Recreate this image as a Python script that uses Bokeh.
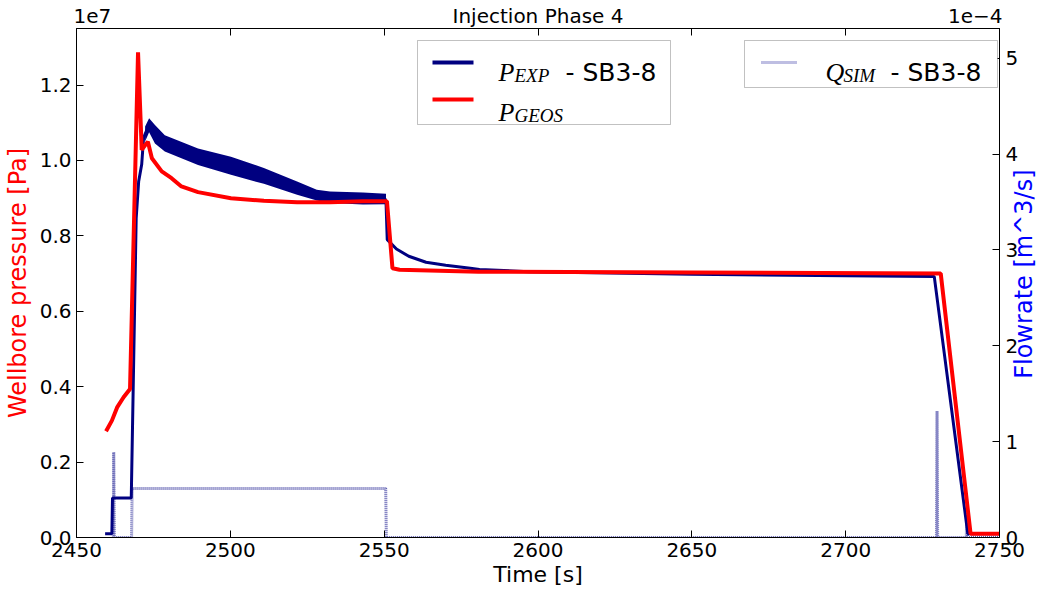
import math
from bokeh.plotting import figure
from bokeh.models import (Range1d, LinearAxis, FixedTicker, CustomJSTickFormatter,
                          Label, BoxAnnotation, Arrow)
from bokeh.embed import file_html
from bokeh.resources import INLINE

# ---------------- data ----------------
# Experimental pressure P_EXP (Pa, in units of 1e6)
t_exp = [2459.3, 2461.5, 2461.7, 2467.8, 2469.4, 2470.2, 2471.2, 2471.8, 2473.6,
         2475.5, 2478.7, 2489.5, 2500.2, 2510.9, 2521.7, 2528.1, 2532.4, 2543.1,
         2550.3, 2550.6, 2551.0, 2554.0, 2558.0, 2563.6, 2570.0, 2578.0, 2581.0,
         2597.0, 2650.0, 2700.0, 2728.8, 2739.7, 2750.0]
p_exp = [0.1, 0.1, 1.05, 1.05, 8.47, 9.44, 9.9, 10.6, 10.95,
         10.7, 10.45, 10.1, 9.86, 9.59, 9.27, 9.08, 9.02, 8.99,
         8.98, 8.9, 7.9, 7.65, 7.46, 7.3, 7.22, 7.14, 7.11,
         7.05, 6.98, 6.94, 6.92, 0.1, 0.1]

# Envelope of the noisy part of P_EXP (1e6 Pa)
t_band = [2472.3, 2473.6, 2475.5, 2478.7, 2489.5, 2500.2, 2510.9, 2521.7,
          2528.1, 2532.4, 2543.1, 2550.6]
band_hi = [10.9, 11.12, 10.94, 10.67, 10.32, 10.1, 9.8, 9.44, 9.22, 9.18, 9.15, 9.12]
band_lo = [10.5, 10.75, 10.45, 10.24, 9.88, 9.62, 9.38, 9.09, 8.94, 8.87, 8.83, 8.84]

# Simulated pressure P_GEOS (1e6 Pa)
t_geos = [2459.6, 2461.5, 2463.2, 2465.3, 2467.4, 2470.0, 2471.2, 2473.2, 2474.5,
          2477.7, 2480.9, 2484.1, 2489.5, 2500.2, 2510.9, 2521.7, 2532.4, 2543.1,
          2550.9, 2552.7, 2555.0, 2580.7, 2650.0, 2730.9, 2740.6, 2750.0]
p_geos = [2.82, 3.1, 3.45, 3.72, 3.94, 12.87, 10.28, 10.5, 10.06,
          9.71, 9.53, 9.31, 9.16, 9.0, 8.93, 8.89, 8.89, 8.92,
          8.92, 7.14, 7.1, 7.05, 7.03, 7.0, 0.1, 0.1]

# Simulated flowrate Q_SIM (1e-4 m^3/s)
t_q = [2462.0, 2462.1, 2462.3, 2467.9, 2468.1, 2500.0, 2550.5, 2550.7,
       2729.5, 2729.7, 2729.9, 2739.2, 2739.4, 2739.6, 2750.0]
q_sim = [0.0, 0.89, 0.0, 0.0, 0.51, 0.51, 0.51, 0.0,
         0.0, 1.32, 0.0, 0.0, 0.3, 0.0, 0.0]

x_ticks = [2450, 2500, 2550, 2600, 2650, 2700, 2750]
y_ticks = [0.0, 0.2e7, 0.4e7, 0.6e7, 0.8e7, 1.0e7, 1.2e7]
q_ticks = [0.0, 1e-4, 2e-4, 3e-4, 4e-4, 5e-4]

TITLE = "Injection Phase 4"
LEFT_OFFSET = "1e7"
RIGHT_OFFSET = "1e\u22124"
X_LABEL = "Time [s]"
Y_LABEL = "Wellbore pressure [Pa]"
Q_LABEL = "Flowrate [m^3/s]"

# ---------------- figure ----------------
FONT = "DejaVu Sans"
p = figure(width=1055, height=593, x_range=Range1d(2450, 2750),
           y_range=Range1d(0, 1.35e7), output_backend="svg",
           toolbar_location=None, title_location=None,
           min_border_left=74, min_border_right=49,
           min_border_top=27, min_border_bottom=56)
p.extra_y_ranges = {"q": Range1d(0, 5.31e-4), "lab": Range1d(0, 1)}
p.extra_x_ranges = {"lab": Range1d(0, 1)}
p.grid.visible = False
p.outline_line_color = "black"
p.outline_line_width = 1
p.background_fill_color = "white"
p.border_fill_color = "white"

def style_axis(ax, show_labels=True):
    ax.major_tick_in = 7
    ax.major_tick_out = 0
    ax.minor_tick_line_color = None
    ax.axis_line_color = "black"
    ax.major_tick_line_color = "black"
    ax.major_label_text_font = FONT
    ax.major_label_text_font_size = "20px" if show_labels else "0px"
    ax.major_label_text_color = "black"
    ax.axis_label_text_font = FONT
    ax.axis_label_text_font_size = "22px"
    ax.axis_label_text_font_style = "normal"
    ax.axis_label_text_color = "black"

xa = p.xaxis[0]
xa.ticker = FixedTicker(ticks=x_ticks)
xa.axis_label = X_LABEL
style_axis(xa)
xa.axis_label_standoff = 2

ya = p.yaxis[0]
ya.ticker = FixedTicker(ticks=y_ticks)
ya.formatter = CustomJSTickFormatter(code="return (tick/1e7).toFixed(1);")
ya.axis_label = Y_LABEL
style_axis(ya)
ya.axis_label_text_color = "red"
ya.axis_label_text_font_size = "24px"

# top axis: tick marks only
top = LinearAxis(ticker=FixedTicker(ticks=x_ticks))
style_axis(top, show_labels=False)
top.major_label_standoff = 0
p.add_layout(top, "above")

# top text row: offset texts and title, drawn as labels of a bare axis
toplab = LinearAxis(x_range_name="lab", ticker=FixedTicker(ticks=[0.0172, 0.5, 0.9737]),
                    formatter=CustomJSTickFormatter(
                        args=dict(a=LEFT_OFFSET, b=TITLE, c=RIGHT_OFFSET),
                        code="if (tick < 0.25) {return a;} if (tick > 0.75) {return c;} return b;"))
toplab.axis_line_color = None
toplab.major_tick_line_color = None
toplab.minor_tick_line_color = None
toplab.major_tick_in = 0
toplab.major_tick_out = 0
toplab.major_label_standoff = 1
toplab.major_label_text_font = FONT
toplab.major_label_text_font_size = "20px"
toplab.major_label_text_color = "black"
p.add_layout(toplab, "above")

# right axis: flowrate
ra = LinearAxis(y_range_name="q", ticker=FixedTicker(ticks=q_ticks),
                formatter=CustomJSTickFormatter(code="return (tick*1e4).toFixed(0);"))
style_axis(ra)
ra.major_label_standoff = 6
p.add_layout(ra, "right")

# right axis title (reads bottom-to-top) as the single label of a bare axis
rlab = LinearAxis(y_range_name="lab", ticker=FixedTicker(ticks=[0.312]),
                  formatter=CustomJSTickFormatter(args=dict(s=Q_LABEL), code="return s;"))
rlab.axis_line_color = None
rlab.major_tick_line_color = None
rlab.minor_tick_line_color = None
rlab.major_tick_in = 0
rlab.major_tick_out = 0
rlab.major_label_standoff = 3
rlab.major_label_orientation = math.pi / 2
rlab.major_label_text_font = FONT
rlab.major_label_text_font_size = "24px"
rlab.major_label_text_line_height = 0.5
rlab.major_label_text_color = "blue"
p.add_layout(rlab, "right")

# ---------------- glyphs ----------------
p_exp_pa = [v * 1e6 for v in p_exp]
p_geos_pa = [v * 1e6 for v in p_geos]
q_si = [v * 1e-4 for v in q_sim]

p.line(t_q, q_si, y_range_name="q", line_color="#1a1a90", line_alpha=0.7,
       line_width=3, line_dash="1 1")
p.varea(x=t_band, y1=[v * 1e6 for v in band_lo], y2=[v * 1e6 for v in band_hi],
        fill_color="#000080")
p.line(t_exp, p_exp_pa, line_color="#000080", line_width=3)
p.line(t_geos, p_geos_pa, line_color="#FF0000", line_width=4)

# ---------------- legends (screen px relative to frame) ----------------
FL, FB = 74, 537
def sx(px):
    return px - FL
def sy(py):
    return FB - py

def box(l, r, t, b):
    p.add_layout(BoxAnnotation(left=sx(l), right=sx(r), top=sy(t), bottom=sy(b),
                               left_units="screen", right_units="screen",
                               top_units="screen", bottom_units="screen",
                               fill_color="white", fill_alpha=1.0,
                               line_color="#333333", line_width=1, level="overlay"))

def seg(x0, x1, y, color, width, dash="solid", alpha=1.0):
    p.add_layout(Arrow(end=None, x_start=sx(x0), x_end=sx(x1), y_start=sy(y), y_end=sy(y),
                       start_units="screen", end_units="screen", line_color=color,
                       line_width=width, line_dash=dash, line_alpha=alpha, level="overlay"))

def txt(x, y, s, size, font=FONT, style="normal"):
    p.add_layout(Label(x=sx(x), y=sy(y), x_units="screen", y_units="screen", text=s,
                       text_font=font, text_font_size=size, text_font_style=style,
                       text_color="black",
                       text_align="left", text_baseline="alphabetic", level="overlay"))

box(415, 668, 40, 124)
seg(430, 471, 62, "#000080", 4)
seg(430, 471, 99, "#FF0000", 4)
txt(496, 72, "P", "26px", "Liberation Serif", "italic")
txt(512, 75, "EXP", "19px", "Liberation Serif", "italic")
txt(563, 72, "- SB3-8", "25px")
txt(496, 112, "P", "26px", "Liberation Serif", "italic")
txt(512, 115, "GEOS", "19px", "Liberation Serif", "italic")

box(742, 995, 40, 87)
seg(759, 795, 62, "#7070c0", 3, "1 1", 0.9)
txt(823, 72, "Q", "26px", "Liberation Serif", "italic")
txt(841, 75, "SIM", "19px", "Liberation Serif", "italic")
txt(888, 72, "- SB3-8", "25px")

open("out.html", "w").write(file_html(p, INLINE))
